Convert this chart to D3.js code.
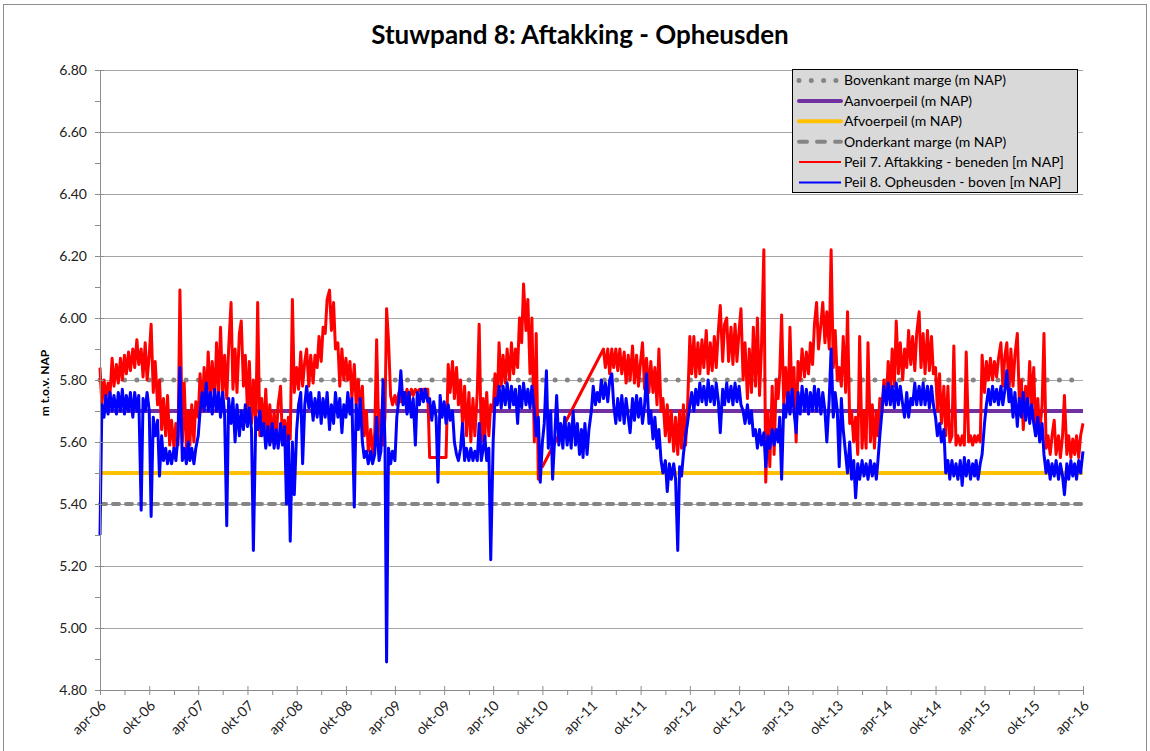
<!DOCTYPE html>
<html><head><meta charset="utf-8">
<script src="https://cdn.jsdelivr.net/npm/d3@7"></script>
<style>
body{margin:0;background:#fff}
text{font-family:Lato,"Open Sans",sans-serif}
</style>
</head><body>
<svg id="chart" width="1150" height="751"></svg>
<script>
// ---------------- DATA ----------------
const chartTitle = "Stuwpand 8: Aftakking - Opheusden";
const yAxisTitle = "m t.o.v. NAP";
const xTickLabels = ["apr-06","okt-06","apr-07","okt-07","apr-08","okt-08","apr-09","okt-09","apr-10","okt-10",
  "apr-11","okt-11","apr-12","okt-12","apr-13","okt-13","apr-14","okt-14","apr-15","okt-15","apr-16"];
const yTickValues = [4.80,5.00,5.20,5.40,5.60,5.80,6.00,6.20,6.40,6.60,6.80];

const refNames  = ["Bovenkant marge (m NAP)","Aanvoerpeil (m NAP)","Afvoerpeil (m NAP)","Onderkant marge (m NAP)"];
const refValues = [5.80, 5.70, 5.50, 5.40];

const seriesNames = ["Peil 7. Aftakking - beneden [m NAP]","Peil 8. Opheusden - boven [m NAP]"];

// readings four times a month (days 1, 8, 16, 23), April 2006 – April 2016
const peil7 = [
5.84,5.72,5.80,5.74,5.79,5.75,5.87,5.78,5.85,5.79,
5.87,5.80,5.88,5.82,5.89,5.83,5.90,5.84,5.93,5.85,
5.90,5.81,5.92,5.80,5.88,5.98,5.76,5.86,5.72,5.80,
5.64,5.74,5.62,5.75,5.59,5.67,5.58,5.66,5.59,6.09,
5.60,5.79,5.58,5.70,5.59,5.72,5.60,5.73,5.68,5.82,
5.70,5.84,5.72,5.89,5.74,5.86,5.73,5.92,5.76,5.97,
5.75,5.88,5.74,5.90,6.05,5.77,5.90,5.76,5.95,5.99,
5.78,5.88,5.70,5.86,5.66,5.80,5.64,6.05,5.62,5.74,
5.63,5.77,5.61,5.72,5.60,5.70,5.61,5.72,5.78,5.60,
5.67,5.60,5.68,5.61,6.06,5.76,5.84,5.77,5.89,5.78,
5.86,5.90,5.78,5.88,5.79,5.88,5.84,5.94,5.86,5.97,
5.95,6.06,6.09,5.96,6.05,5.90,5.92,5.78,5.90,5.80,
5.87,5.80,5.86,5.74,5.85,5.72,5.80,5.70,5.78,5.62,
5.70,5.57,5.64,5.56,5.63,5.93,5.58,5.70,5.59,5.68,
6.03,5.93,5.75,5.72,5.75,5.72,5.76,5.73,5.76,5.74,
5.77,5.74,5.77,5.75,5.77,5.76,5.77,5.76,5.77,5.77,
5.77,5.55,5.55,5.55,5.55,5.55,5.55,5.55,5.55,5.55,
5.85,5.76,5.86,5.74,5.84,5.72,5.80,5.66,5.78,5.62,
5.76,5.60,5.74,5.62,5.76,5.98,5.60,5.74,5.61,5.76,
5.62,5.72,5.70,5.82,5.72,5.92,5.78,5.88,5.79,5.90,
5.80,5.92,5.82,5.90,5.84,6.00,5.92,6.11,5.96,6.06,
5.82,6.00,5.60,5.95,5.48,5.52,5.52,null,null,null,
null,null,null,null,null,null,null,null,null,null,
null,null,null,null,null,null,null,null,null,null,
null,null,null,null,null,null,5.90,5.84,5.90,5.82,
5.90,5.84,5.90,5.83,5.90,5.82,5.89,5.79,5.88,5.80,
5.91,5.79,5.88,5.78,5.86,5.92,5.77,5.87,5.76,5.86,
5.76,5.84,5.72,5.90,5.70,5.74,5.62,5.72,5.60,5.70,
5.57,5.68,5.56,5.70,5.58,5.72,5.59,5.70,5.94,5.82,
5.94,5.81,5.92,5.82,5.93,5.84,5.96,5.82,5.92,5.83,
5.94,5.84,5.96,6.04,5.86,5.98,6.00,5.86,5.97,5.85,
5.98,5.86,5.96,6.03,5.80,5.92,5.74,5.90,5.76,5.97,
5.78,6.00,5.75,5.90,6.22,5.47,5.70,5.52,5.78,5.56,
5.80,5.74,5.82,6.01,5.72,5.84,5.70,5.97,5.72,5.84,
5.60,5.86,5.80,5.90,5.81,5.89,5.82,5.92,5.85,5.98,
6.05,5.90,5.98,6.05,5.92,6.02,5.90,6.22,5.84,5.96,
5.80,5.84,5.78,5.94,5.76,6.02,5.66,5.70,5.60,5.68,
5.56,5.94,5.58,5.70,5.58,5.92,5.60,5.72,5.58,5.70,
5.62,5.74,5.70,5.80,5.72,5.86,5.76,5.90,5.78,5.99,
5.82,5.92,5.80,5.90,5.84,5.96,5.85,5.94,5.83,5.95,
6.02,5.84,5.95,5.82,5.96,5.83,5.94,5.82,5.84,5.70,
5.82,5.66,5.78,5.62,5.78,5.60,5.62,5.91,5.59,5.62,
5.59,5.62,5.59,5.89,5.60,5.62,5.59,5.62,5.60,5.62,
5.60,5.88,5.76,5.86,5.80,5.87,5.80,5.86,5.81,5.87,
5.92,5.78,5.88,5.92,5.76,5.90,5.78,5.88,5.95,5.74,
5.80,5.64,5.78,5.70,5.86,5.72,5.84,5.62,5.74,5.63,
5.72,5.95,5.58,5.62,5.56,5.62,5.67,5.56,5.62,5.55,
5.62,5.75,5.56,5.62,5.55,5.61,5.56,5.62,5.55,5.62,
5.66];

const peil8 = [
5.30,5.72,5.68,5.75,5.69,5.76,5.70,5.75,5.69,5.76,
5.70,5.77,5.69,5.75,5.70,5.76,5.68,5.76,5.70,5.75,
5.38,5.74,5.70,5.76,5.70,5.36,5.68,5.62,5.67,5.49,
5.62,5.54,5.58,5.53,5.57,5.53,5.58,5.54,5.62,5.84,
5.54,5.58,5.53,5.60,5.54,5.58,5.53,5.58,5.62,5.70,
5.76,5.70,5.79,5.70,5.76,5.69,5.77,5.70,5.76,5.68,
5.76,5.69,5.33,5.74,5.66,5.74,5.60,5.72,5.62,5.70,
5.64,5.72,5.65,5.71,5.64,5.25,5.68,5.64,5.70,5.62,
5.66,5.58,5.65,5.59,5.66,5.58,5.64,5.58,5.66,5.59,
5.65,5.40,5.62,5.28,5.60,5.43,5.64,5.72,5.76,5.53,
5.72,5.78,5.71,5.76,5.67,5.74,5.68,5.76,5.66,5.74,
5.68,5.76,5.64,5.72,5.66,5.76,5.68,5.74,5.63,5.72,
5.68,5.76,5.69,5.74,5.39,5.72,5.64,5.74,5.60,5.55,
5.57,5.53,5.57,5.53,5.56,5.68,5.54,5.57,5.80,5.60,
4.89,5.58,5.53,5.57,5.54,5.68,5.74,5.83,5.72,5.76,
5.69,5.76,5.68,5.74,5.59,5.76,5.72,5.77,5.73,5.77,
5.73,5.74,5.67,5.73,5.68,5.47,5.75,5.68,5.73,5.66,
5.72,5.67,5.70,5.60,5.56,5.54,5.58,5.66,5.54,5.58,
5.54,5.58,5.54,5.57,5.54,5.66,5.54,5.58,5.62,5.54,
5.58,5.22,5.60,5.74,5.72,5.78,5.71,5.78,5.72,5.79,
5.71,5.78,5.72,5.77,5.66,5.78,5.71,5.79,5.72,5.77,
5.71,5.78,5.70,5.62,5.68,5.47,5.60,5.66,5.83,5.58,
5.70,5.48,5.62,5.75,5.59,5.66,5.58,5.68,5.59,5.66,
5.58,5.70,5.59,5.66,5.56,5.64,5.55,5.66,5.56,5.64,
5.70,5.78,5.72,5.76,5.73,5.80,5.74,5.79,5.73,5.80,
5.82,5.72,5.66,5.74,5.67,5.75,5.66,5.74,5.68,5.63,
5.74,5.67,5.75,5.68,5.74,5.66,5.72,5.82,5.66,5.70,
5.61,5.68,5.58,5.64,5.54,5.50,5.54,5.44,5.53,5.48,
5.53,5.48,5.25,5.52,5.49,5.56,5.62,5.66,5.72,5.76,
5.70,5.77,5.72,5.79,5.73,5.78,5.72,5.80,5.73,5.78,
5.72,5.79,5.73,5.63,5.77,5.72,5.79,5.73,5.78,5.72,
5.79,5.73,5.78,5.72,5.70,5.66,5.72,5.66,5.70,5.62,
5.64,5.58,5.64,5.59,5.63,5.52,5.62,5.58,5.64,5.59,
5.64,5.60,5.68,5.48,5.72,5.68,5.76,5.69,5.77,5.70,
5.63,5.76,5.69,5.78,5.70,5.77,5.69,5.76,5.70,5.78,
5.70,5.77,5.69,5.76,5.70,5.60,5.74,5.90,5.68,5.76,
5.70,5.52,5.74,5.64,5.56,5.50,5.60,5.48,5.54,5.42,
5.53,5.48,5.54,5.49,5.53,5.48,5.54,5.49,5.53,5.48,
5.54,5.62,5.70,5.78,5.72,5.79,5.72,5.78,5.71,5.79,
5.72,5.78,5.72,5.68,5.76,5.68,5.74,5.72,5.79,5.72,
5.78,5.72,5.79,5.72,5.78,5.71,5.78,5.72,5.68,5.62,
5.66,5.60,5.64,5.50,5.54,5.48,5.54,5.49,5.53,5.48,
5.54,5.46,5.55,5.49,5.54,5.48,5.53,5.49,5.54,5.48,
5.53,5.56,5.66,5.72,5.77,5.72,5.78,5.73,5.77,5.72,
5.78,5.72,5.77,5.83,5.73,5.77,5.68,5.76,5.65,5.74,
5.68,5.76,5.67,5.74,5.66,5.72,5.66,5.62,5.68,5.60,
5.66,5.56,5.50,5.54,5.48,5.53,5.49,5.54,5.48,5.53,
5.49,5.43,5.53,5.48,5.54,5.49,5.53,5.48,5.54,5.50,
5.57];

// ---------------- LAYOUT ----------------
const plot = {left:100, right:1083, top:70, bottom:690};
const startDate = new Date(2006, 3, 1), endDate = new Date(2016, 3, 1);
const sampleDays = [1, 8, 16, 23];
const sampleDates = peil7.map((_, i) => new Date(2006, 3 + Math.floor(i / 4), sampleDays[i % 4]));
const tickDates = xTickLabels.map((_, k) => new Date(2006, 3 + 6 * k, 1));
const minorDates = xTickLabels.slice(1).map((_, k) => new Date(2006, 6 + 6 * k, 1));

const svg = d3.select("#chart");
const x = d3.scaleTime().domain([startDate, endDate]).range([plot.left, plot.right]);
const y = d3.scaleLinear().domain([4.8, 6.8]).range([plot.bottom, plot.top]);

// outer frame
svg.append("rect").attr("x",3.5).attr("y",4.5).attr("width",1143).attr("height",780)
  .attr("fill","#fff").attr("stroke","#8c8c8c").attr("stroke-width",1);

// title
svg.append("text").attr("x",580).attr("y",44).attr("text-anchor","middle")
  .attr("font-size",26).attr("font-weight","bold").attr("fill","#000").text(chartTitle);

// gridlines
svg.append("g").selectAll("line").data(yTickValues).join("line")
  .attr("x1",plot.left).attr("x2",plot.right)
  .attr("y1",d=>Math.round(y(d))+0.5).attr("y2",d=>Math.round(y(d))+0.5)
  .attr("stroke","#a6a6a6").attr("stroke-width",1);

// reference lines
const refStyles = [
  {stroke:"#858585", width:5, dash:"0,12.3", cap:"round"},
  {stroke:"#7030a0", width:4, dash:null, cap:"butt"},
  {stroke:"#ffc000", width:4, dash:null, cap:"butt"},
  {stroke:"#858585", width:4, dash:"6,7", cap:"round"}
];
const refG = svg.append("g");
refValues.forEach((v, k) => {
  const s = refStyles[k];
  const ln = refG.append("line")
    .attr("x1", x(startDate)).attr("x2", x(endDate))
    .attr("y1", y(v)).attr("y2", y(v))
    .attr("stroke", s.stroke).attr("stroke-width", s.width).attr("stroke-linecap", s.cap);
  if (s.dash) ln.attr("stroke-dasharray", s.dash);
});

// data lines (missing readings are skipped and the line is connected)
const line = d3.line().x(d => x(d.date)).y(d => y(d.v));
function series(values){
  return values.map((v,i)=>({date:sampleDates[i], v})).filter(d => d.v !== null);
}
svg.append("path").datum(series(peil7)).attr("d", line)
  .attr("fill","none").attr("stroke","#ff0000").attr("stroke-width",3)
  .attr("stroke-linejoin","round");
svg.append("path").datum(series(peil8)).attr("d", line)
  .attr("fill","none").attr("stroke","#0000ff").attr("stroke-width",3)
  .attr("stroke-linejoin","round");

// y axis
const axisColor = "#8c8c8c";
const yAxis = svg.append("g").attr("transform",`translate(${plot.left},0)`)
  .call(d3.axisLeft(y).tickValues(yTickValues).tickFormat(d3.format(".2f")).tickSize(5).tickPadding(8).tickSizeOuter(0));
yAxis.select(".domain").attr("stroke",axisColor);
yAxis.selectAll(".tick line").attr("stroke",axisColor);
yAxis.selectAll("text").attr("font-size",14).attr("fill","#222").style("font-family","Lato");
svg.append("g").attr("transform",`translate(${plot.left},0)`)
  .call(d3.axisLeft(y).tickValues(d3.range(4.9,6.8,0.2)).tickFormat("").tickSize(5).tickSizeOuter(0))
  .call(g=>{g.select(".domain").remove(); g.selectAll("line").attr("stroke",axisColor);});
svg.append("g").attr("transform",`translate(${plot.left},0)`)
  .call(d3.axisRight(y).tickValues(yTickValues).tickFormat("").tickSize(4).tickSizeOuter(0))
  .call(g=>{g.select(".domain").remove(); g.selectAll("line").attr("stroke",axisColor);});

// y title
svg.append("text").attr("transform",`translate(49,383) rotate(-90)`).attr("text-anchor","middle")
  .attr("font-size",12).attr("font-weight","bold").attr("fill","#000").text(yAxisTitle);

// x axis
const xAxis = svg.append("g").attr("transform",`translate(0,${plot.bottom})`)
  .call(d3.axisBottom(x).tickValues(tickDates).tickFormat((d,i)=>xTickLabels[i]).tickSize(5).tickSizeOuter(0));
xAxis.select(".domain").attr("stroke",axisColor);
xAxis.selectAll(".tick line").attr("stroke",axisColor).attr("y1",-4);
xAxis.selectAll("text").attr("font-size",14).attr("fill","#222").style("font-family","Lato")
  .attr("text-anchor","end").attr("y",0).attr("dy","0.35em")
  .attr("transform","translate(3,13) rotate(-45)");
svg.append("g").attr("transform",`translate(0,${plot.bottom})`)
  .call(d3.axisBottom(x).tickValues(minorDates).tickFormat("").tickSize(5).tickSizeOuter(0))
  .call(g=>{g.select(".domain").remove(); g.selectAll("line").attr("stroke",axisColor);});

// legend
const leg = svg.append("g").attr("transform","translate(792,69)");
leg.append("rect").attr("x",0.5).attr("y",0.5).attr("width",285).attr("height",123)
  .attr("fill","#d9d9d9").attr("stroke","#000").attr("stroke-width",1);
const legItems = [
  {name:refNames[0], stroke:"#858585", width:5, dash:"0,12.3", cap:"round"},
  {name:refNames[1], stroke:"#7030a0", width:4, dash:null, cap:"round"},
  {name:refNames[2], stroke:"#ffc000", width:4, dash:null, cap:"round"},
  {name:refNames[3], stroke:"#858585", width:4, dash:"8,10", cap:"round"},
  {name:seriesNames[0], stroke:"#ff0000", width:2, dash:null, cap:"butt"},
  {name:seriesNames[1], stroke:"#0000ff", width:2, dash:null, cap:"butt"}
];
legItems.forEach((it,k)=>{
  const yy = 11.5 + k*20.4;
  const l = leg.append("line").attr("x1",7).attr("x2",49).attr("y1",yy).attr("y2",yy)
    .attr("stroke",it.stroke).attr("stroke-width",it.width).attr("stroke-linecap",it.cap);
  if (it.dash) l.attr("stroke-dasharray",it.dash);
  leg.append("text").attr("x",52).attr("y",yy).attr("dy","0.35em")
    .attr("font-size",14).attr("fill","#000").text(it.name);
});
</script>
</body></html>
